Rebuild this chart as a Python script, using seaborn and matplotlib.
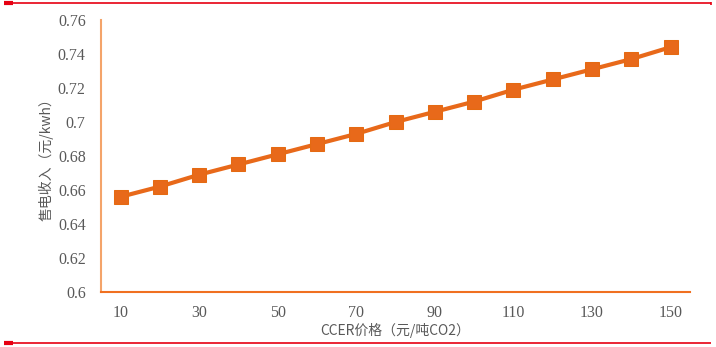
import matplotlib
matplotlib.use("Agg")
import matplotlib.pyplot as plt
from matplotlib.lines import Line2D
import seaborn as sns
import pandas as pd

# CCER price (yuan / t CO2) and resulting power sales revenue (yuan / kWh)
ccer_price = [10, 20, 30, 40, 50, 60, 70, 80, 90, 100, 110, 120, 130, 140, 150]
revenue = [0.656, 0.662, 0.669, 0.675, 0.681, 0.687, 0.693, 0.700,
           0.706, 0.712, 0.719, 0.725, 0.731, 0.737, 0.744]
x_ticks = [10, 30, 50, 70, 90, 110, 130, 150]
y_ticks = [0.6, 0.62, 0.64, 0.66, 0.68, 0.7, 0.72, 0.74, 0.76]
y_tick_labels = ["0.6", "0.62", "0.64", "0.66", "0.68", "0.7", "0.72", "0.74", "0.76"]

df = pd.DataFrame({"price": ccer_price, "revenue": revenue})

sns.set_style("white")
plt.rcParams["font.family"] = ["Liberation Serif", "Noto Sans CJK SC"]

fig = plt.figure(figsize=(7.16, 3.47), dpi=100)
ax = fig.add_axes([0.141, 0.1585, 0.823, 0.7839])

line_color = "#E8691A"
sns.lineplot(data=df, x="price", y="revenue", ax=ax, color=line_color,
             linewidth=3, marker="s", markersize=9.5,
             markeredgecolor="#E56A12", markerfacecolor=line_color)

ax.set_xlim(5, 155)
ax.set_ylim(0.6, 0.76)
ax.set_xticks(x_ticks)
ax.set_xticklabels([str(t) for t in x_ticks])
ax.set_yticks(y_ticks)
ax.set_yticklabels(y_tick_labels)

text_color = "#595959"
ax.tick_params(axis="y", direction="in", length=5, width=1, color="#F07020",
               labelsize=11.5, labelcolor=text_color, pad=11)
ax.tick_params(axis="x", length=0, labelsize=11.5, labelcolor=text_color, pad=9)

for side in ("top", "right"):
    ax.spines[side].set_visible(False)
ax.spines["left"].set_color("#F4A46A")
ax.spines["left"].set_linewidth(1.5)
ax.spines["bottom"].set_color("#F07020")
ax.spines["bottom"].set_linewidth(1.5)

cjk = ["Noto Sans CJK SC", "DejaVu Sans"]
ax.set_xlabel("CCER价格（元/吨CO2）", family=cjk, fontsize=10, color=text_color, labelpad=2)
ax.set_ylabel("售电收入（元/kwh）", family=cjk, fontsize=10, color=text_color, labelpad=3)

# red frame rules above and below the chart
red = "#E60012"
rule = dict(color=red, solid_capstyle="butt")
fig.add_artist(Line2D([4 / 716, 711 / 716], [1 - 2.7 / 347] * 2, linewidth=1.2, **rule))
fig.add_artist(Line2D([4 / 716, 13 / 716], [1 - 2.7 / 347] * 2, linewidth=3, **rule))
fig.add_artist(Line2D([711 / 716, 711 / 716], [1 - 2 / 347, 1 - 5 / 347], linewidth=1.2, **rule))
fig.add_artist(Line2D([4 / 716, 711 / 716], [1 - 342.5 / 347] * 2, linewidth=1.2, **rule))
fig.add_artist(Line2D([4 / 716, 13 / 716], [1 - 342.5 / 347] * 2, linewidth=3, **rule))

fig.savefig("out.png", dpi=100)
